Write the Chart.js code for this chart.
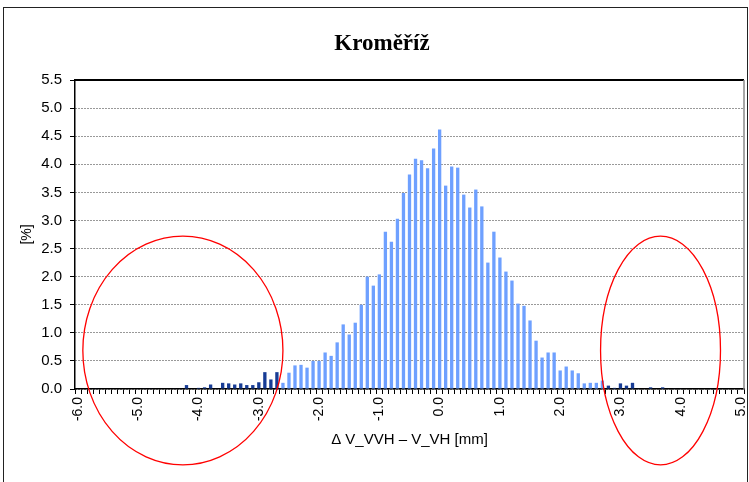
<!DOCTYPE html>
<html><head><meta charset="utf-8">
<script src="https://cdn.jsdelivr.net/npm/chart.js@4/dist/chart.umd.min.js"></script>
<style>html,body{margin:0;padding:0;background:#fff;}canvas{display:block;}</style>
</head><body>
<canvas id="c" width="749" height="482"></canvas>
<script>
const chartTitle = 'Kroměříž';
const xTitle = 'Δ V_VVH – V_VH [mm]';
const yTitle = '[%]';
const categories = [
 '-6.0','-5.9','-5.8','-5.7','-5.6','-5.5','-5.4','-5.3','-5.2','-5.1',
 '-5.0','-4.9','-4.8','-4.7','-4.6','-4.5','-4.4','-4.3','-4.2','-4.1',
 '-4.0','-3.9','-3.8','-3.7','-3.6','-3.5','-3.4','-3.3','-3.2','-3.1',
 '-3.0','-2.9','-2.8','-2.7','-2.6','-2.5','-2.4','-2.3','-2.2','-2.1',
 '-2.0','-1.9','-1.8','-1.7','-1.6','-1.5','-1.4','-1.3','-1.2','-1.1',
 '-1.0','-0.9','-0.8','-0.7','-0.6','-0.5','-0.4','-0.3','-0.2','-0.1',
 '0.0','0.1','0.2','0.3','0.4','0.5','0.6','0.7','0.8','0.9',
 '1.0','1.1','1.2','1.3','1.4','1.5','1.6','1.7','1.8','1.9',
 '2.0','2.1','2.2','2.3','2.4','2.5','2.6','2.7','2.8','2.9',
 '3.0','3.1','3.2','3.3','3.4','3.5','3.6','3.7','3.8','3.9',
 '4.0','4.1','4.2','4.3','4.4','4.5','4.6','4.7','4.8','4.9',
 '5.0'
];
const shares = [
 0, 0, 0, 0.01, 0, 0, 0, 0, 0, 0,
 0, 0.01, 0.01, 0, 0, 0, 0.01, 0.01, 0.07, 0,
 0.02, 0.03, 0.08, 0.01, 0.11, 0.10, 0.08, 0.10, 0.07, 0.07,
 0.12, 0.30, 0.17, 0.30, 0.11, 0.29, 0.42, 0.43, 0.38, 0.50,
 0.50, 0.65, 0.59, 0.83, 1.15, 0.97, 1.18, 1.50, 2.00, 1.84,
 2.04, 2.80, 2.62, 3.03, 3.49, 3.82, 4.10, 4.07, 3.93, 4.28,
 4.62, 3.62, 3.96, 3.94, 3.46, 3.23, 3.55, 3.25, 2.25, 2.80,
 2.34, 2.09, 1.93, 1.52, 1.48, 1.22, 0.86, 0.56, 0.65, 0.65,
 0.33, 0.40, 0.33, 0.28, 0.10, 0.11, 0.11, 0.15, 0.06, 0.02,
 0.10, 0.06, 0.11, 0.01, 0, 0.03, 0, 0.03, 0, 0.01,
 0.01, 0, 0, 0, 0, 0.01, 0, 0, 0, 0,
 0
];
const tickLabels = ['-6.0','-5.0','-4.0','-3.0','-2.0','-1.0','0.0','1.0','2.0','3.0','4.0','5.0'];
const centralFrom = -2.6;
const centralTo = 2.7;
// circled regions (annotation), in axis units: mm horizontally, % vertically
const circledRegions = [
 {from: -5.92, to: -2.6, top: 2.72, bottom: -1.35},
 {from: 2.67, to: 4.66, top: 2.72, bottom: -1.35}
];

const LIGHT = '#6EA0FF', DARK = '#173C95';

const framePlugin = {
 id: 'frame',
 afterDraw(chart) {
  const {ctx, chartArea: a, scales: {x, y}} = chart;
  ctx.save();
  // outer frame
  ctx.strokeStyle = '#222'; ctx.lineWidth = 1;
  ctx.strokeRect(3.5, 7.5, 744, 490);
  // plot top border and right border
  ctx.beginPath(); ctx.strokeStyle = '#000'; ctx.lineWidth = 2;
  ctx.moveTo(a.left, a.top); ctx.lineTo(a.right, a.top); ctx.stroke();
  ctx.beginPath(); ctx.strokeStyle = '#8a8a8a'; ctx.lineWidth = 1.5;
  ctx.moveTo(a.right, a.top); ctx.lineTo(a.right, a.bottom); ctx.stroke();
  // red ellipses
  const first = parseFloat(categories[0]);
  const step = parseFloat(categories[1]) - first;
  ctx.strokeStyle = '#ff0000'; ctx.lineWidth = 1.3;
  circledRegions.forEach(r => {
   const x1 = x.getPixelForValue((r.from - first) / step);
   const x2 = x.getPixelForValue((r.to - first) / step);
   const y1 = y.getPixelForValue(r.top);
   const y2 = y.getPixelForValue(r.bottom);
   ctx.beginPath();
   ctx.ellipse((x1 + x2) / 2, (y1 + y2) / 2, Math.abs(x2 - x1) / 2, Math.abs(y2 - y1) / 2, 0, 0, Math.PI * 2);
   ctx.stroke();
  });
  ctx.restore();
 }
};

new Chart(document.getElementById('c'), {
 type: 'bar',
 data: {
  labels: categories,
  datasets: [{
   label: 'share',
   data: shares,
   backgroundColor: c => {
    const v = parseFloat(categories[c.dataIndex]);
    return (v >= centralFrom - 0.05 && v <= centralTo + 0.05) ? LIGHT : DARK;
   },
   barPercentage: 0.55,
   categoryPercentage: 1.0
  }]
 },
 options: {
  responsive: false,
  animation: false,
  layout: {padding: {left: 20, right: 5, top: 0, bottom: 0}},
  plugins: {
   legend: {display: false},
   tooltip: {enabled: false},
   title: {
    display: true, text: chartTitle, color: '#000',
    font: {family: '"Liberation Serif"', size: 23, weight: 'bold', lineHeight: 1.2},
    padding: {top: 30.2, bottom: 22.2}
   }
  },
  scales: {
   x: {
    grid: {display: true, drawOnChartArea: false, drawTicks: true, tickLength: 5, color: '#000', tickColor: '#000', offset: true},
    border: {display: true, color: '#000', width: 1.5},
    ticks: {
     autoSkip: false, maxRotation: 90, minRotation: 90, padding: 3, color: '#000',
     font: {family: '"Liberation Sans"', size: 14},
     callback: (val, i) => tickLabels.includes(categories[i]) ? categories[i] : ''
    },
    title: {display: true, text: xTitle, color: '#000', font: {family: '"Liberation Sans"', size: 15, lineHeight: 1.2}, padding: {top: 0, bottom: 33}},
    afterFit: s => { s.height = 93; s.paddingLeft = 0; s.paddingRight = 0; }
   },
   y: {
    min: 0, max: 5.5,
    grid: {color: '#333', tickColor: '#000', tickLength: 5, drawTicks: true, tickBorderDash: []},
    border: {display: true, color: '#000', width: 1.5, dash: [1, 2]},
    ticks: {stepSize: 0.5, padding: 8, color: '#000', font: {family: '"Liberation Sans"', size: 15},
     callback: v => Number(v).toFixed(1)},
    title: {display: true, text: yTitle, color: '#000', font: {family: '"Liberation Sans"', size: 14, lineHeight: 1}, padding: {top: 0, bottom: 0}},
    afterFit: s => { s.width = 55; }
   }
  }
 },
 plugins: [framePlugin]
});
</script>
</body></html>
